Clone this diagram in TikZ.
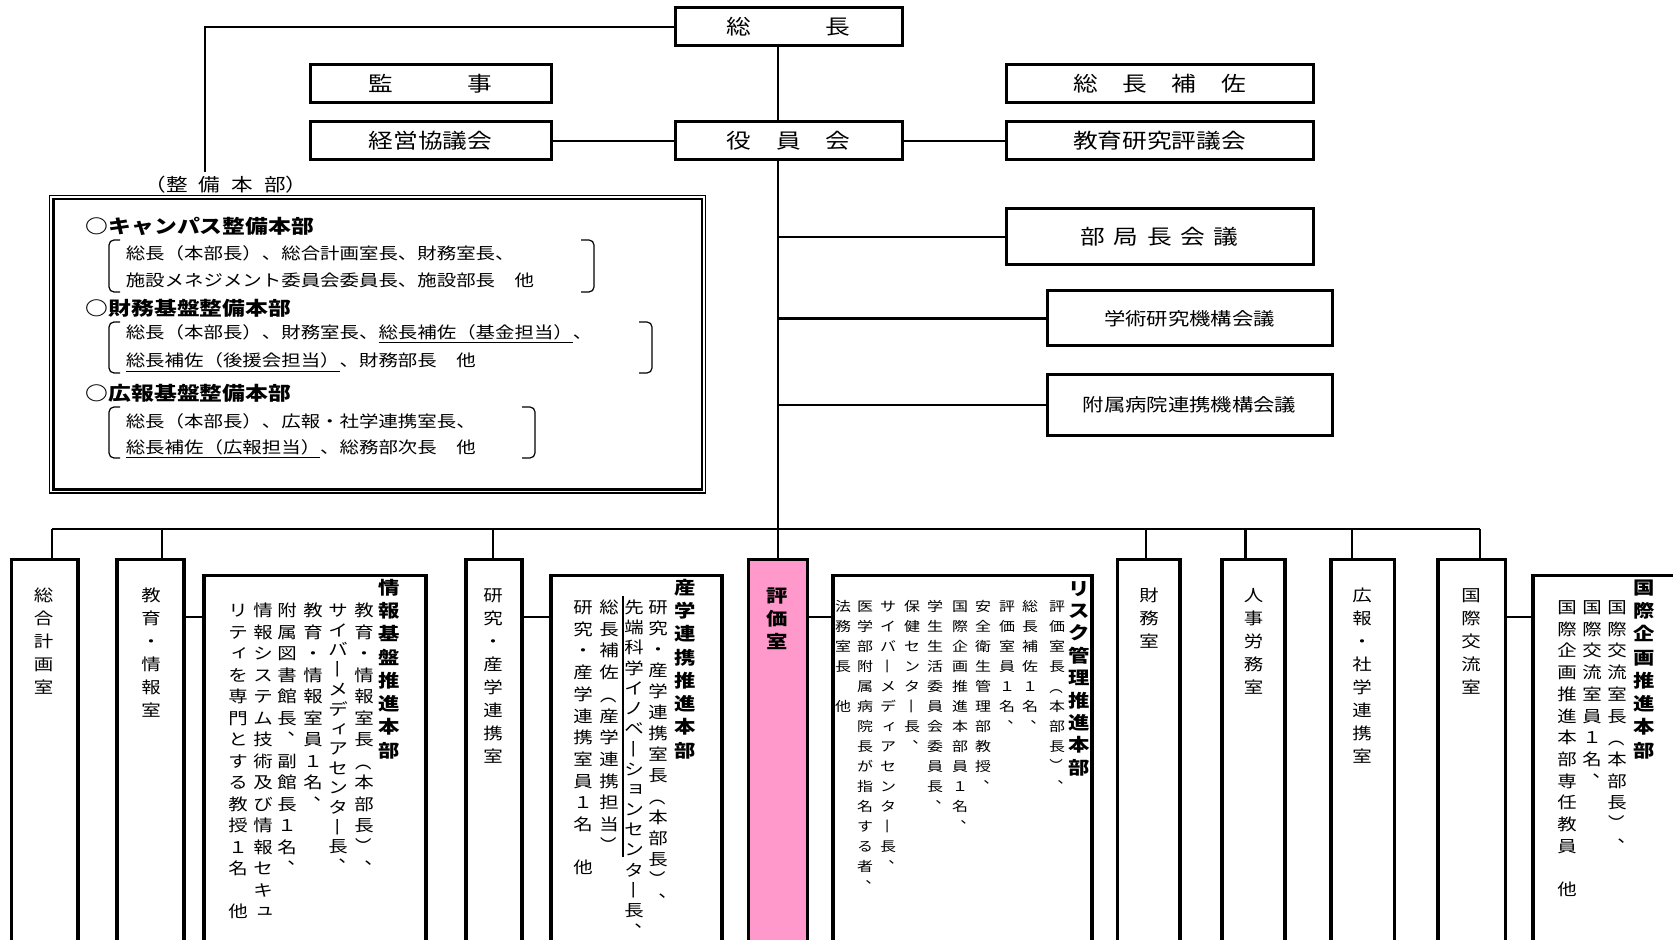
\documentclass[tikz,border=0pt]{standalone}
\usepackage{fontspec}
\usepackage{graphicx}
\setmainfont{Noto Sans CJK JP}[FakeStretch=1.2]
\definecolor{pinkf}{HTML}{FF99CC}
\newdimen\vtP
\def\vtend{vtend-marker}
\newcommand\cjkbox[1]{\raisebox{-0.38em}[0.5em][0.5em]{#1}}
\newcommand\vtcomma{\cjkbox{\kern0.62em\raisebox{0.6em}{、}\kern-0.62em}}
\newcommand\vtsmall[1]{\cjkbox{\kern0.12em\raisebox{0.1em}{#1}\kern-0.12em}}
\def\vtglyph#1{%
  \ifx#1ー\rotatebox[origin=c]{-90}{\cjkbox{ー}}%
  \else\ifx#1（\rotatebox[origin=c]{-90}{\cjkbox{（}}%
  \else\ifx#1）\rotatebox[origin=c]{-90}{\cjkbox{）}}%
  \else\ifx#1、\vtcomma
  \else\ifx#1ィ\vtsmall{ィ}%
  \else\ifx#1ョ\vtsmall{ョ}%
  \else\ifx#1ュ\vtsmall{ュ}%
  \else\cjkbox{#1}%
  \fi\fi\fi\fi\fi\fi\fi}
\def\vtcell#1{\hbox to1.2em{\vrule height.5\vtP depth.5\vtP width0pt\hss\raisebox{0pt}[0pt][0pt]{\vtglyph#1}\hss}}
\def\vtloop#1{\ifx\vtend#1\else\vtcell#1\expandafter\vtloop\fi}
\newcommand\vt[2]{\vtP=#1\relax\vbox{\offinterlineskip\vtloop#2\vtend}}
\newcommand\fcol{\fontsize{8.1pt}{8.1pt}\selectfont}
\newcommand\ftit{\bfseries\fontsize{8.9pt}{8.9pt}\selectfont}
\newcommand\frisk{\fontsize{6.65pt}{6.65pt}\selectfont}
\tikzset{
  tbox/.style={draw, line width=1.5pt, inner sep=0pt, font=\fontsize{10.3pt}{10.3pt}\selectfont},
  cbox/.style={draw, line width=1.7pt, anchor=north, inner sep=0pt, minimum height=250pt},
  conn/.style={line width=1.1pt},
  vtx/.style={anchor=north, inner sep=0pt},
  lt/.style={anchor=west, inner sep=0pt, font=\fontsize{8.1pt}{8.1pt}\selectfont},
  lh/.style={anchor=west, inner sep=0pt, font=\bfseries\fontsize{9.5pt}{9.5pt}\selectfont},
  brk/.style={line width=0.6pt, rounded corners=2.5pt},
}
\begin{document}
\begin{tikzpicture}[x=0.5pt,y=-0.5pt]
\useasboundingbox (0,0) rectangle (1673,940);
\clip (0,0) rectangle (1673,940);
\fill[white] (0,0) rectangle (1673,940);
% ---------- top boxes
\node[tbox, minimum width=113.5pt, minimum height=19pt] (sou) at (788.5,27) {総　　　長};
\node[tbox, minimum width=120.5pt, minimum height=19pt] (kanji) at (430.5,84) {監　　　事};
\node[tbox, minimum width=120.5pt, minimum height=19pt] (keiei) at (430.5,141) {経営協議会};
\node[tbox, minimum width=113.5pt, minimum height=19pt] (yaku) at (788.5,141) {役　員　会};
\node[tbox, minimum width=153.5pt, minimum height=19pt] (hosa) at (1159.5,84) {総　長　補　佐};
\node[tbox, minimum width=153.5pt, minimum height=19pt] (kyoiku) at (1159.5,141) {教育研究評議会};
\node[tbox, minimum width=153.5pt, minimum height=28pt] (bukyoku) at (1159.5,237) {部\kern4.35pt局\kern4.35pt長\kern4.35pt会\kern4.35pt議};
\node[tbox, minimum width=142.5pt, minimum height=27.5pt, font=\fontsize{8.9pt}{8.9pt}\selectfont] (gakujutsu) at (1189.5,318.5) {学術研究機構会議};
\node[tbox, minimum width=142.5pt, minimum height=30pt, font=\fontsize{8.9pt}{8.9pt}\selectfont] (fuzoku) at (1189.5,405) {附属病院連携機構会議};
% ---------- seibi box
\node[inner sep=0pt, font=\fontsize{9pt}{9pt}\selectfont] (seibilabel) at (226,185) {（整\kern5.5pt備\kern5.5pt本\kern5.5pt部）};
\coordinate (sbtop) at (205,172);
\node[draw, line width=0.9pt, minimum width=328pt, minimum height=148.75pt, inner sep=0pt] (seibi) at (377.5,344.25) {};
\draw[line width=1.4pt] ([shift={(2.25pt,-2.25pt)}]seibi.north west) rectangle ([shift={(-2.25pt,2.25pt)}]seibi.south east);
\node[lh] (h1) at (85.5,226) {○キャンパス整備本部};
\node[lt] (l1a) at (125.4,253) {総長（本部長）、総合計画室長、財務室長、};
\node[lt] (l1b) at (125.4,280) {施設メネジメント委員会委員長、施設部長　他};
\node[lh] (h2) at (85.5,308) {○財務基盤整備本部};
\node[lt] (l2a) at (125.4,334) {総長（本部長）、財務室長、\underline{総長補佐（基金担当）}、};
\node[lt] (l2b) at (125.4,362.7) {\underline{総長補佐（後援会担当）}、財務部長　他};
\node[lh] (h3) at (85.5,393) {○広報基盤整備本部};
\node[lt] (l3a) at (125.4,421.7) {総長（本部長）、広報・社学連携室長、};
\node[lt] (l3b) at (125.4,449.3) {\underline{総長補佐（広報担当）}、総務部次長　他};
\draw[brk] (120,240) -| (109,292) -- (120,292);
\draw[brk] (581,240) -| (594,292) -- (581,292);
\draw[brk] (120,322) -| (109,373) -- (120,373);
\draw[brk] (639,322) -| (652,373) -- (639,373);
\draw[brk] (120,407) -| (109,458) -- (120,458);
\draw[brk] (522,407) -| (535,458) -- (522,458);
% ---------- bottom column boxes
\node[cbox, minimum width=33.15pt] (c1) at (44.85,558) {};
\node[cbox, minimum width=33.5pt] (c2) at (150.5,558) {};
\node[cbox, minimum width=111pt] (c3) at (315,574) {};
\node[cbox, minimum width=28pt] (c4) at (494,558) {};
\node[cbox, minimum width=85.5pt] (c5) at (636.5,574) {};
\node[cbox, minimum width=29.5pt, fill=pinkf] (hyoka) at (778,558) {};
\node[cbox, minimum width=129.5pt] (c7) at (962.5,574) {};
\node[cbox, minimum width=31.25pt] (c8) at (1148.75,558) {};
\node[cbox, minimum width=31.5pt] (c9) at (1253.5,558) {};
\node[cbox, minimum width=31.8pt] (c10) at (1362.8,558) {};
\node[cbox, minimum width=33.85pt] (c11) at (1471.85,558) {};
\node[cbox, minimum width=83.5pt] (c12) at (1616.5,574) {};
% ---------- connectors
\draw[conn] (sou.south -| hyoka.north) -- (yaku.north -| hyoka.north);
\draw[conn] (yaku.south -| hyoka.north) -- (hyoka.north);
\draw[conn] (sou.west) -| (sbtop);
\draw[conn] (keiei.east) -- (yaku.west);
\draw[conn] (yaku.east) -- (kyoiku.west);
\draw[conn] (hyoka.north |- bukyoku.west) -- (bukyoku.west);
\draw[conn] (hyoka.north |- gakujutsu.west) -- (gakujutsu.west);
\draw[conn] (hyoka.north |- fuzoku.west) -- (fuzoku.west);
\coordinate (b1) at (52,529);
\coordinate (b2) at (162,529);
\coordinate (b4) at (493,529);
\coordinate (b8) at (1146,529);
\coordinate (b9) at (1245.5,529);
\coordinate (b10) at (1352,529);
\coordinate (b11) at (1480,529);
\draw[conn] (b1) -- (b11);
\draw[conn] (b1) -- (b1 |- c1.north);
\draw[conn] (b2) -- (b2 |- c2.north);
\draw[conn] (b4) -- (b4 |- c4.north);
\draw[conn] (b8) -- (b8 |- c8.north);
\draw[conn] (b9) -- (b9 |- c9.north);
\draw[conn] (b10) -- (b10 |- c10.north);
\draw[conn] (b11) -- (b11 |- c11.north);
\coordinate (sy) at (0,617);
\draw[conn] (c2.east |- sy) -- (c3.west |- sy);
\draw[conn] (c4.east |- sy) -- (c5.west |- sy);
\draw[conn] (hyoka.east |- sy) -- (c7.west |- sy);
\draw[conn] (c11.east |- sy) -- (c12.west |- sy);
% ---------- vertical texts: single columns
\node[vtx] (t1) at (43.5,583.5) {\fcol\vt{11.5pt}{総合計画室}};
\node[vtx] (t2) at (151,583.5) {\fcol\vt{11.5pt}{教育・情報室}};
\node[vtx] (t4) at (493,583.5) {\fcol\vt{11.5pt}{研究・産学連携室}};
\node[vtx] (t6) at (777,583.5) {\ftit\vt{11.5pt}{評価室}};
\node[vtx] (t8) at (1149,583.5) {\fcol\vt{11.5pt}{財務室}};
\node[vtx] (t9) at (1253.5,583.5) {\fcol\vt{11.5pt}{人事労務室}};
\node[vtx] (t10) at (1362,583.5) {\fcol\vt{11.5pt}{広報・社学連携室}};
\node[vtx] (t11) at (1471,583.5) {\fcol\vt{11.5pt}{国際交流室}};
% ---------- 情報基盤推進本部
\node[vtx] (t3h) at (389,575.35) {\ftit\vt{11.65pt}{情報基盤推進本部}};
\node[vtx] (t3a) at (364,599.25) {\fcol\vt{10.75pt}{教育・情報室長（本部長）、}};
\node[vtx] (t3b) at (338,600.15) {\fcol\vt{9.85pt}{サイバーメディアセンター長、}};
\node[vtx] (t3c) at (313,599.25) {\fcol\vt{10.75pt}{教育・情報室員１名、}};
\node[vtx] (t3d) at (287,599.25) {\fcol\vt{10.75pt}{附属図書館長、副館長１名、}};
\node[vtx] (t3e) at (263,599.25) {\fcol\vt{10.75pt}{情報システム技術及び情報セキュ}};
\node[vtx] (t3f) at (238,599.25) {\fcol\vt{10.75pt}{リティを専門とする教授１名　他}};
% ---------- 産学連携推進本部
\node[vtx] (t5h) at (685,575.35) {\ftit\vt{11.65pt}{産学連携推進本部}};
\node[vtx] (t5a) at (658,596.5) {\fcol\vt{10.5pt}{研究・産学連携室長（本部長）、}};
\node[vtx] (t5b) at (634,596.9) {\fcol\vt{10.1pt}{先端科学イノベーションセンター長、}};
\node[vtx] (t5c) at (609,596.15) {\fcol\vt{10.85pt}{総長補佐（産学連携担当）}};
\node[vtx] (t5d) at (583,596.15) {\fcol\vt{10.85pt}{研究・産学連携室員１名　他}};
\draw[line width=0.8pt] ([xshift=2pt]t5c.north east) -- ([xshift=2pt]t5c.south east);
% ---------- リスク管理推進本部
\node[vtx] (t7h) at (1079,576.8) {\ftit\vt{11.2pt}{リスク管理推進本部}};
\node[vtx] (t7a) at (1057,596) {\frisk\vt{10pt}{評価室長（本部長）、}};
\node[vtx] (t7b) at (1030,596) {\frisk\vt{10pt}{総長補佐１名、}};
\node[vtx] (t7c) at (1007,596) {\frisk\vt{10pt}{評価室員１名、}};
\node[vtx] (t7d) at (983,596) {\frisk\vt{10pt}{安全衛生管理部教授、}};
\node[vtx] (t7e) at (960,596) {\frisk\vt{10pt}{国際企画推進本部員１名、}};
\node[vtx] (t7f) at (935,596) {\frisk\vt{10pt}{学生生活委員会委員長、}};
\node[vtx] (t7g) at (912,596) {\frisk\vt{10pt}{保健センター長、}};
\node[vtx] (t7i) at (888,596) {\frisk\vt{10pt}{サイバーメディアセンター長、}};
\node[vtx] (t7j) at (865,596) {\frisk\vt{10pt}{医学部附属病院長が指名する者、}};
\node[vtx] (t7k) at (843,596) {\frisk\vt{10pt}{法務室長　他}};
% ---------- 国際企画推進本部
\node[vtx] (t12h) at (1644,575.35) {\ftit\vt{11.65pt}{国際企画推進本部}};
\node[vtx] (t12a) at (1617,596.15) {\fcol\vt{10.85pt}{国際交流室長（本部長）、}};
\node[vtx] (t12b) at (1592,596.15) {\fcol\vt{10.85pt}{国際交流室員１名、}};
\node[vtx] (t12c) at (1567,596.15) {\fcol\vt{10.85pt}{国際企画推進本部専任教員　他}};
\end{tikzpicture}
\end{document}
